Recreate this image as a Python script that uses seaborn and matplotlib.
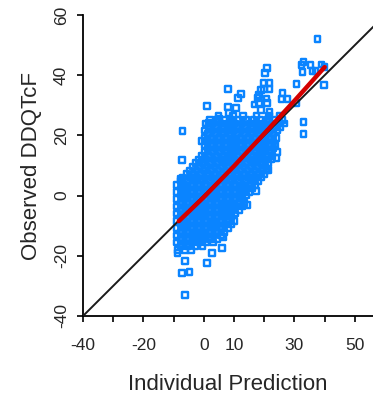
import matplotlib
matplotlib.use("Agg")
import matplotlib.pyplot as plt
import seaborn as sns
import pandas as pd

sns.set_theme(style="white")
plt.rcParams["font.family"] = ["Liberation Sans", "DejaVu Sans"]

BLUE = "#0a84ff"
RED = "#d40000"

# Dense core of the cloud, stored row by row: observed value -> predictions
core_rows = {
    -18.0: [-8.6, -6.2, -4.2],
    -16.8: [-7.6, -5.2, -2.8, -0.4],
    -15.6: [-8.8, -6.4, -4.0, -1.6, 0.8, 3.0],
    -14.4: [-7.6, -5.2, -2.8, -0.4, 2.0, 4.4],
    -13.2: [-8.8, -6.4, -4.0, -1.6, 0.8, 3.2, 5.6],
    -12.0: [-7.6, -5.2, -2.8, -0.4, 2.0, 4.4, 6.8],
    -10.8: [-8.8, -6.4, -4.0, -1.6, 0.8, 3.2, 5.6, 8.0],
    -9.6: [-7.6, -5.2, -2.8, -0.4, 2.0, 4.4, 6.8, 9.0],
    -8.4: [-8.8, -6.4, -4.0, -1.6, 0.8, 3.2, 5.6, 8.0, 10.0],
    -7.2: [-7.6, -5.2, -2.8, -0.4, 2.0, 4.4, 6.8, 9.2],
    -6.0: [-8.8, -6.4, -4.0, -1.6, 0.8, 3.2, 5.6, 8.0, 10.4],
    -4.8: [-7.6, -5.2, -2.8, -0.4, 2.0, 4.4, 6.8, 9.2, 11.6],
    -3.6: [-8.8, -6.4, -4.0, -1.6, 0.8, 3.2, 5.6, 8.0, 10.4, 12.6],
    -2.4: [-7.6, -5.2, -2.8, -0.4, 2.0, 4.4, 6.8, 9.2, 11.6, 13.4],
    -1.2: [-8.8, -6.4, -4.0, -1.6, 0.8, 3.2, 5.6, 8.0, 10.4, 12.8],
    0.0: [-7.6, -5.2, -2.8, -0.4, 2.0, 4.4, 6.8, 9.2, 11.6, 14.0],
    1.2: [-8.8, -6.4, -4.0, -1.6, 0.8, 3.2, 5.6, 8.0, 10.4, 12.8, 15.0],
    2.4: [-7.6, -5.2, -2.8, -0.4, 2.0, 4.4, 6.8, 9.2, 11.6, 14.0, 16.0],
    3.6: [-8.8, -6.4, -4.0, -1.6, 0.8, 3.2, 5.6, 8.0, 10.4, 12.8, 15.2, 17.0],
    4.8: [-7.6, -5.2, -2.8, -0.4, 2.0, 4.4, 6.8, 9.2, 11.6, 14.0, 16.4, 18.0],
    6.0: [-7.0, -4.6, -2.2, 0.2, 2.6, 5.0, 7.4, 9.8, 12.2, 14.6, 17.0, 19.0],
    7.2: [-5.8, -3.4, -1.0, 1.4, 3.8, 6.2, 8.6, 11.0, 13.4, 15.8, 18.2, 20.0],
    8.4: [-4.8, -2.4, 0.0, 2.4, 4.8, 7.2, 9.6, 12.0, 14.4, 16.8, 19.2, 20.8],
    9.6: [-3.6, -1.2, 1.2, 3.6, 6.0, 8.4, 10.8, 13.2, 15.6, 18.0, 20.4],
    10.8: [-2.8, -0.4, 2.0, 4.4, 6.8, 9.2, 11.6, 14.0, 16.4, 18.8, 21.2],
    12.0: [-1.6, 0.8, 3.2, 5.6, 8.0, 10.4, 12.8, 15.2, 17.6, 20.0, 22.2],
    13.2: [-0.6, 1.8, 4.2, 6.6, 9.0, 11.4, 13.8, 16.2, 18.6, 21.0, 22.8],
    14.4: [0.4, 2.8, 5.2, 7.6, 10.0, 12.4, 14.8, 17.2, 19.6, 22.0],
    15.6: [1.4, 3.8, 6.2, 8.6, 11.0, 13.4, 15.8, 18.2, 20.6, 23.0],
    16.8: [0.2, 2.6, 5.0, 7.4, 9.8, 12.2, 14.6, 17.0, 19.4, 21.8, 23.6],
    18.0: [1.4, 3.8, 6.2, 8.6, 11.0, 13.4, 15.8, 18.2, 20.6, 23.0],
    19.2: [0.2, 2.6, 5.0, 7.4, 9.8, 12.2, 14.6, 17.0, 19.4, 21.8, 24.0],
    20.4: [1.4, 3.8, 6.2, 8.6, 11.0, 13.4, 15.8, 18.2, 20.6, 23.0],
    21.6: [0.4, 2.8, 5.2, 7.6, 10.0, 12.4, 14.8, 17.2, 19.6, 22.0, 24.4],
    22.8: [1.6, 4.0, 6.4, 8.8, 11.2, 13.6, 16.0, 18.4, 20.8, 23.2, 25.4],
    24.0: [0.8, 3.2, 5.6, 8.0, 10.4, 12.8, 15.2, 17.6, 20.0, 22.4, 24.8, 26.6],
    25.2: [2.0, 4.4, 6.8, 9.2, 11.6, 14.0, 16.4, 18.8, 21.2, 23.6, 26.0],
    26.4: [4.8, 9.6, 13.0, 17.4, 21.6, 25.0],
}

# Sparse observations away from the core
outer_pred = [37.7, 33.0, 32.3, 35.3, 32.7, 37.0, 40.0, 39.7, 30.7, 21.0,
              20.3, 19.7, 21.7, 20.0, 21.7, 18.3, 26.0, 25.7, 27.7, 30.7,
              18.3, 21.0, 19.0, 21.7, 33.0, 33.0, 8.0, 12.3, 11.3, 1.0,
              8.0, 10.7, 8.3, 5.0, 1.7, -7.0, -0.7, -7.3, -7.7, -8.7,
              -6.3, -7.3, -4.7, -6.3, 1.0, 2.7, 6.0, 6.3, 24.3, 24.0,
              21.3, 17.3, 14.3, 36.0, 39.0, 19.0, 17.7, 20.7, 16.7]
outer_obs = [52.0, 44.4, 43.4, 43.4, 41.1, 41.4, 42.7, 36.7, 37.1, 42.4,
             40.7, 37.4, 37.4, 35.4, 35.4, 33.4, 34.1, 32.1, 32.1, 30.8,
             30.8, 30.8, 28.4, 27.8, 24.5, 20.5, 35.4, 33.8, 32.4, 29.8,
             29.4, 29.1, 27.4, 25.4, 24.1, 21.5, 18.1, 11.8, 5.5, -19.1,
             -21.7, -25.7, -25.4, -33.0, -22.4, -19.1, -17.4, -13.8, 14.5, 12.5,
             8.5, 1.5, -3.1, 41.4, 43.6, 35.0, 32.4, 32.2, 30.2]

# Smoothed trend and line of identity
trend_pred = [-8.3, 0.0, 10.0, 20.0, 30.0, 40.0]
trend_obs = [-8.5, -0.5, 9.8, 20.6, 31.5, 42.7]
identity = [-40, 60]

pred, obs = [], []
for yv, xs in core_rows.items():
    pred += xs
    obs += [yv] * len(xs)
pred += outer_pred
obs += outer_obs
df = pd.DataFrame({"Individual Prediction": pred, "Observed DDQTcF": obs})

fig = plt.figure(figsize=(3.73, 3.95), dpi=100)
ax = fig.add_axes([0.2225, 0.2, 0.7775, 0.762])

sns.scatterplot(data=df, x="Individual Prediction", y="Observed DDQTcF", ax=ax,
                marker="s", s=16, facecolors="none", edgecolors=BLUE,
                linewidths=1.75, zorder=2, clip_on=False)
sns.lineplot(x=identity, y=identity, ax=ax, color="#1a1a1a", lw=1.4, zorder=3)
sns.lineplot(x=trend_pred, y=trend_obs, ax=ax, color=RED, lw=3.2, zorder=4)

ax.set_xlim(-40, 56)
ax.set_ylim(-40, 60)

x_ticks = list(range(-40, 60, 10))
x_labels = ["-40", "", "-20", "", "0", "10", "", "30", "", "50"]
y_ticks = [-40, -20, 0, 20, 40, 60]
ax.set_xticks(x_ticks)
ax.set_xticklabels(x_labels)
ax.set_yticks(y_ticks)
ax.set_yticklabels([str(v) for v in y_ticks], rotation=90, va="center")

for side in ("top", "right"):
    ax.spines[side].set_visible(False)
for side in ("left", "bottom"):
    ax.spines[side].set_color("black")
    ax.spines[side].set_linewidth(1.3)

ax.tick_params(axis="x", direction="out", length=4, width=1.2, color="black",
               labelsize=12.5, pad=12, bottom=True)
ax.tick_params(axis="y", direction="out", length=4, width=1.2, color="black",
               labelsize=12.5, pad=6, left=True)
ax.set_xlabel("Individual Prediction", fontsize=16, labelpad=15)
ax.set_ylabel("Observed DDQTcF", fontsize=16, labelpad=9)
ax.grid(False)

fig.savefig("out.png", dpi=100)
